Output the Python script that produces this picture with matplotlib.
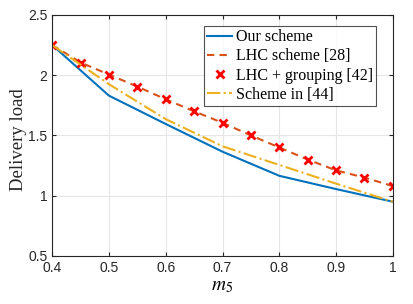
import matplotlib
matplotlib.use("Agg")
import matplotlib.pyplot as plt

plt.rcParams['mathtext.fontset'] = 'stix'

# data
m5 = [0.4, 0.5, 0.6, 0.7, 0.8, 0.9, 1.0]
ours = [2.25, 1.83, 1.595, 1.365, 1.165, 1.055, 0.95]
scheme44 = [2.25, 1.925, 1.635, 1.41, 1.255, 1.10, 0.95]

m5_fine = [0.4, 0.45, 0.5, 0.55, 0.6, 0.65, 0.7, 0.75, 0.8, 0.85, 0.9, 0.95, 1.0]
lhc = [2.25, 2.105, 2.005, 1.905, 1.80, 1.70, 1.605, 1.50, 1.40, 1.30, 1.21, 1.15, 1.08]

fig = plt.figure(figsize=(4.14, 3.04), dpi=100)
ax = fig.add_axes([0.126, 0.158, 0.823, 0.793])

ax.plot(m5, ours, color='#0072BD', lw=1.5, label='Our scheme')
ax.plot(m5_fine, lhc, color='#D95319', lw=1.5, ls=(0, (3.5, 2.5)), label='LHC scheme [28]')
ax.plot(m5_fine, lhc, ls='none', marker='x', color='red', ms=6, mew=2, label='LHC + grouping [42]')
ax.plot(m5, scheme44, color='#EDB120', lw=1.5, ls='-.', label='Scheme in [44]')

ax.set_xlim(0.4, 1.0)
ax.set_ylim(0.5, 2.5)
ax.set_xticks([0.4, 0.5, 0.6, 0.7, 0.8, 0.9, 1.0])
ax.set_xticklabels(['0.4', '0.5', '0.6', '0.7', '0.8', '0.9', '1'])
ax.set_yticks([0.5, 1, 1.5, 2, 2.5])
ax.set_yticklabels(['0.5', '1', '1.5', '2', '2.5'])
ax.tick_params(direction='in', top=True, right=True, labelsize=10, colors='#262626', length=3)
for lab in ax.get_xticklabels() + ax.get_yticklabels():
    lab.set_family('Liberation Sans')
ax.grid(True, color='#e6e6e6', lw=0.8)
ax.set_axisbelow(True)
for s in ax.spines.values():
    s.set_color('#262626')
    s.set_linewidth(0.8)

ax.set_xlabel('$m_5$', fontsize=14, labelpad=1)
ax.set_ylabel('Delivery load', family='Liberation Serif', fontsize=13.5, color='#262626')
ax.yaxis.set_label_coords(-0.075, 0.483)

leg = ax.legend(loc='upper right', prop={'family': 'Liberation Serif', 'size': 11.5},
                fancybox=False, edgecolor='#262626', handlelength=1.6,
                borderpad=0.2, labelspacing=0.2, handletextpad=0.2,
                borderaxespad=0, bbox_to_anchor=(0.950, 0.954))
leg.get_frame().set_linewidth(0.8)

fig.savefig('out.png', dpi=100)
